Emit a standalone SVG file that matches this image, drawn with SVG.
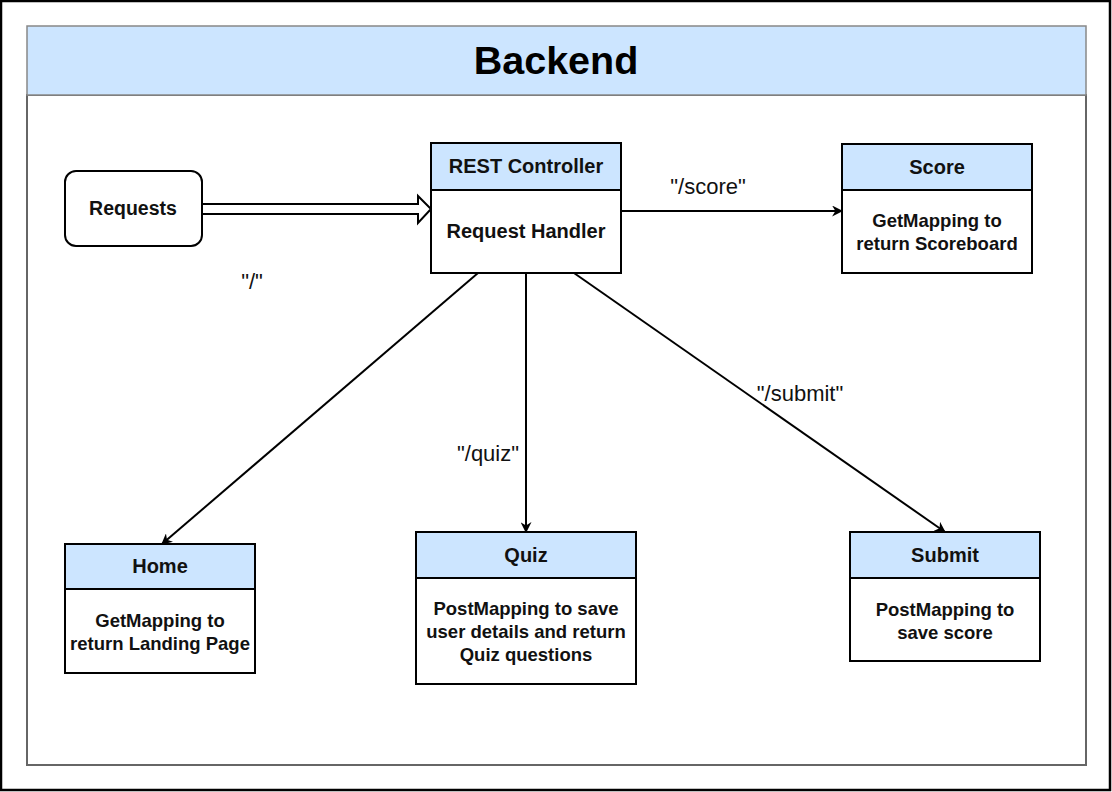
<svg xmlns="http://www.w3.org/2000/svg" width="1112" height="792" viewBox="0 0 1112 792">
<style>
.box{fill:#fff;stroke:#000;stroke-width:2}
.hdr{fill:#cce5ff;stroke:#000;stroke-width:2}
.t{font-family:"Liberation Sans",Arial,sans-serif;font-weight:bold;font-size:18.5px;fill:#111;text-anchor:middle}
.h{font-size:20px}
.lbl{font-family:"Liberation Sans",Arial,sans-serif;font-size:22px;fill:#111;text-anchor:middle}
.edge{stroke:#000;stroke-width:2;fill:none;marker-end:url(#ah)}
</style>
<defs>
<marker id="ah" viewBox="0 0 10 10" refX="9" refY="5" markerWidth="11" markerHeight="11" markerUnits="userSpaceOnUse" orient="auto">
<path d="M0,0 L10,5 L0,10 L3,5 Z" fill="#000"/>
</marker>
</defs>
<rect x="1" y="1" width="1109" height="789" fill="#fff" stroke="#000" stroke-width="2.5"/>
<g id="container">
<rect x="27" y="95" width="1059" height="670" fill="#fff" stroke="#666" stroke-width="2"/>
<rect x="27" y="26" width="1059" height="69" fill="#cce5ff" stroke="#888" stroke-width="1.5"/>
<text x="556" y="74" font-family="Liberation Sans,Arial,sans-serif" font-weight="bold" font-size="39.5" text-anchor="middle" fill="#000">Backend</text>
</g>
<g id="connectors">
<path d="M202,204 H418 V196 L431,209 L418,223 V214 H202" fill="#fff" stroke="#000" stroke-width="2"/>
<line class="edge" x1="621" y1="211" x2="842" y2="211"/>
<line class="edge" x1="478" y1="273" x2="162" y2="544"/>
<line class="edge" x1="526" y1="273" x2="526" y2="532"/>
<line class="edge" x1="574" y1="273" x2="945" y2="532"/>
<text class="lbl" x="708" y="194">"/score"</text>
<text class="lbl" x="252" y="289">"/"</text>
<text class="lbl" x="488" y="461">"/quiz"</text>
<text class="lbl" x="800" y="401">"/submit"</text>
</g>
<g id="requests">
<rect class="box" x="65" y="171" width="137" height="75" rx="11"/>
<text class="t" x="133" y="215" style="font-size:19.5px">Requests</text>
</g>
<g id="rest">
<rect class="box" x="431" y="143" width="190" height="130"/>
<rect class="hdr" x="431" y="143" width="190" height="47"/>
<text class="t h" x="526" y="173">REST Controller</text>
<text class="t h" x="526" y="238">Request Handler</text>
</g>
<g id="score">
<rect class="box" x="842" y="144" width="190" height="129"/>
<rect class="hdr" x="842" y="144" width="190" height="46"/>
<text class="t h" x="937" y="174">Score</text>
<text class="t" x="937" y="227">GetMapping to</text>
<text class="t" x="937" y="250">return Scoreboard</text>
</g>
<g id="home">
<rect class="box" x="65" y="544" width="190" height="129"/>
<rect class="hdr" x="65" y="544" width="190" height="45"/>
<text class="t h" x="160" y="573">Home</text>
<text class="t" x="160" y="627">GetMapping to</text>
<text class="t" x="160" y="650">return Landing Page</text>
</g>
<g id="quiz">
<rect class="box" x="416" y="532" width="220" height="152"/>
<rect class="hdr" x="416" y="532" width="220" height="46"/>
<text class="t h" x="526" y="562">Quiz</text>
<text class="t" x="526" y="615">PostMapping to save</text>
<text class="t" x="526" y="638">user details and return</text>
<text class="t" x="526" y="661">Quiz questions</text>
</g>
<g id="submit">
<rect class="box" x="850" y="532" width="190" height="129"/>
<rect class="hdr" x="850" y="532" width="190" height="46"/>
<text class="t h" x="945" y="562">Submit</text>
<text class="t" x="945" y="616">PostMapping to</text>
<text class="t" x="945" y="639">save score</text>
</g>
</svg>
